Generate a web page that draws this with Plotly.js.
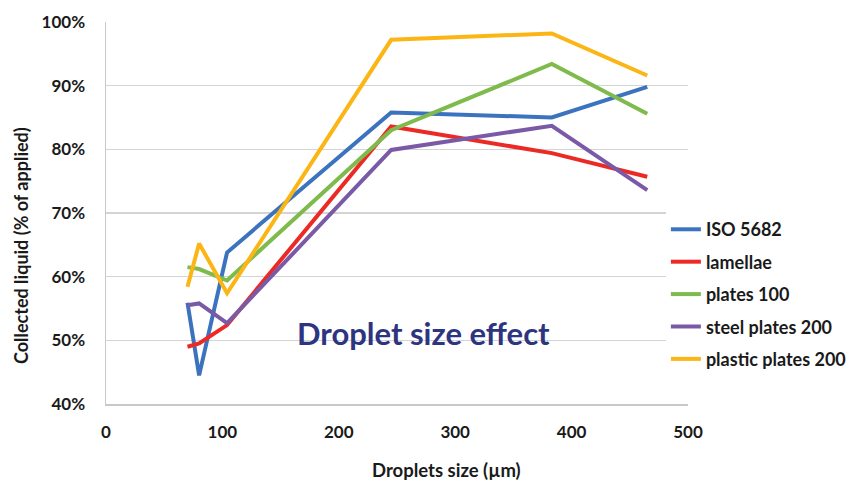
<!DOCTYPE html>
<html><head><meta charset="utf-8">
<script src="https://cdn.plot.ly/plotly-3.0.1.min.js"></script>
<style>html,body{margin:0;padding:0;background:#fff}#chart{width:850px;height:485px}</style>
</head><body><div id="chart"></div>
<script>
const dropletSize = [70, 80, 104, 245, 383, 465];
const seriesNames = ["ISO 5682", "lamellae", "plates 100", "steel plates 200", "plastic plates 200"];
const iso5682 = [0.559, 0.445, 0.638, 0.858, 0.850, 0.898];
const lamellae = [0.490, 0.495, 0.524, 0.836, 0.794, 0.757];
const plates100 = [0.615, 0.612, 0.594, 0.830, 0.934, 0.856];
const steelPlates200 = [0.555, 0.558, 0.527, 0.799, 0.837, 0.736];
const plasticPlates200 = [0.584, 0.652, 0.574, 0.972, 0.982, 0.916];
const colors = ["#3B73BE", "#EC2A25", "#7FBA4C", "#7A5AA6", "#FBB616"];
const yTicks = [0.4, 0.5, 0.6, 0.7, 0.8, 0.9, 1.0];
const xTicks = [0, 100, 200, 300, 400, 500];

const allSeries = [iso5682, lamellae, plates100, steelPlates200, plasticPlates200];
const traces = allSeries.map((ys, i) => ({
  x: dropletSize, y: ys, name: seriesNames[i], type: "scatter", mode: "lines",
  line: {color: colors[i], width: 4}, legendgroup: "g" + i
}));

const font = "Lato, 'Open Sans', sans-serif";
const pw = 850 - 106 - 162, ph = 485 - 22 - 81;
const layout = {
  width: 850, height: 485,
  margin: {l: 106, r: 162, t: 22, b: 81, autoexpand: false},
  paper_bgcolor: "#fff", plot_bgcolor: "#fff",
  font: {family: font, color: "#1a1a1a"},
  xaxis: {
    range: [0, 500], tickvals: xTicks, ticktext: xTicks.map(String),
    showgrid: false, zeroline: false, showline: true, linecolor: "#c8c8c8", linewidth: 1.5,
    ticks: "", ticklabelstandoff: 12, tickfont: {size: 17, family: font, weight: "bold"}
  },
  yaxis: {
    range: [0.4, 1.0], tickvals: yTicks, tickformat: ".0%",
    showgrid: true, gridcolor: "#d4d4d4", gridwidth: 1.5, zeroline: false,
    showline: true, linecolor: "#c8c8c8", linewidth: 1.5,
    ticks: "", ticklabelstandoff: 16, tickfont: {size: 17, family: font, weight: "bold"}
  },
  legend: {
    x: 0.962, y: 0.505, xanchor: "left", yanchor: "top",
    bgcolor: "rgba(255,255,255,1)", font: {size: 18, family: font, weight: "bold", color: "#1a1a1a"},
    tracegroupgap: 6, itemwidth: 30
  },
  annotations: [{
    x: (424 - 106) / pw, y: (404 - 333) / ph, xref: "paper", yref: "paper", showarrow: false,
    text: "Droplet size effect", xanchor: "center", yanchor: "middle",
    font: {size: 31, family: font, weight: "bold", color: "#2E3580"}
  }, {
    x: (446 - 106) / pw, y: (404 - 470) / ph, xref: "paper", yref: "paper", showarrow: false,
    text: "Droplets size (µm)", xanchor: "center", yanchor: "middle",
    font: {size: 18.5, family: font, weight: "bold", color: "#1a1a1a"}
  }, {
    x: (21 - 106) / pw, y: (404 - 246) / ph, xref: "paper", yref: "paper", showarrow: false, textangle: -90,
    text: "Collected liquid (% of applied)", xanchor: "center", yanchor: "middle",
    font: {size: 18, family: font, weight: "bold", color: "#1a1a1a"}
  }]
};
Plotly.newPlot("chart", traces, layout, {displayModeBar: false, staticPlot: true});
</script>
</body></html>
